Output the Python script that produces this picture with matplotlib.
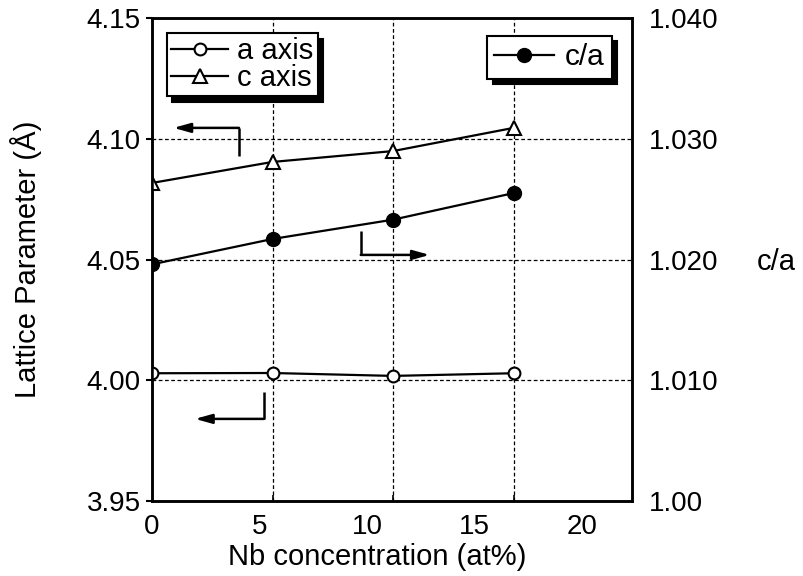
import matplotlib
matplotlib.use("Agg")
import matplotlib.pyplot as plt

plt.rcParams['font.family'] = ['Liberation Sans', 'DejaVu Sans']

# ---- data ----
nb_conc = [0.0, 5.6, 11.2, 16.8]
a_axis = [4.0029, 4.0030, 4.0018, 4.0029]
c_axis = [4.0817, 4.0904, 4.0949, 4.1045]
c_over_a = [1.0196, 1.0217, 1.0233, 1.0255]

x_tick_vals = [0, 5, 10, 15, 20]
x_tick_labels = ['0', '5', '10', '15', '20']
y_left_ticks = [3.95, 4.00, 4.05, 4.10, 4.15]
y_left_labels = ['3.95', '4.00', '4.05', '4.10', '4.15']
y_right_ticks = [1.00, 1.01, 1.02, 1.03, 1.04]
y_right_labels = ['1.00', '1.010', '1.020', '1.030', '1.040']

fig = plt.figure(figsize=(8.04, 5.76), dpi=100)
ax = fig.add_axes([152/804, 75/576, 480/804, 483/576])

TICK_FS = 20
LABEL_FS = 21

ax.set_xlim(0, 22.3)
ax.set_ylim(3.95, 4.15)

ax.set_xticks(x_tick_vals)
ax.set_xticklabels(x_tick_labels, fontsize=TICK_FS)
ax.set_xticks(nb_conc[1:], minor=True)
ax.tick_params(axis='x', which='major', length=0, pad=9)
ax.tick_params(axis='x', which='minor', length=4, direction='in', width=1.2)
ax.grid(True, axis='x', which='minor', color='k', linestyle=(0, (3, 2)), linewidth=0.9)

ax.set_yticks(y_left_ticks)
ax.set_yticklabels(y_left_labels, fontsize=TICK_FS)
ax.tick_params(axis='y', which='major', length=4, direction='out', width=1.5, pad=4)
ax.grid(True, axis='y', which='major', color='k', linestyle=(0, (3, 2)), linewidth=0.9)

for s in ax.spines.values():
    s.set_linewidth(1.8)

l1, = ax.plot(nb_conc, a_axis, color='k', lw=1.6, marker='o', ms=8.5,
              mfc='white', mec='k', mew=1.5, label='a axis', zorder=5)
l2, = ax.plot(nb_conc, c_axis, color='k', lw=1.6, marker='^', ms=9.5,
              mfc='white', mec='k', mew=1.5, label='c axis', zorder=5)

ax2 = ax.twinx()
ax2.set_ylim(1.000, 1.040)
ax2.set_yticks(y_right_ticks)
ax2.set_yticklabels(y_right_labels, fontsize=TICK_FS)
ax2.tick_params(axis='y', length=0, pad=12)
for s in ax2.spines.values():
    s.set_linewidth(1.8)
l3, = ax2.plot(nb_conc, c_over_a, color='k', lw=1.6, marker='o', ms=10,
               mfc='k', mec='k', label='c/a', zorder=5)

ax.set_xlabel('Nb concentration (at%)', fontsize=LABEL_FS)
ax.xaxis.set_label_coords(0.47, -0.087)
ax.set_ylabel('Lattice Parameter (Å)', fontsize=LABEL_FS)
ax.yaxis.set_label_coords(-0.229, 0.5)
ax2.set_ylabel('c/a', fontsize=LABEL_FS, rotation=0, ha='center', va='center')
ax2.yaxis.set_label_coords(1.30, 0.495)

# direction arrows
def corner_arrow(axis, x0, y0, xc, yc, xt, yt):
    axis.plot([x0, xc], [y0, yc], color='k', lw=1.8, solid_capstyle='butt', zorder=4)
    axis.annotate('', xy=(xt, yt), xytext=(xc, yc),
                  arrowprops=dict(arrowstyle='-|>,head_length=1.0,head_width=0.28',
                                  color='k', lw=1.8, shrinkA=0, shrinkB=0), zorder=4)

corner_arrow(ax, 4.04, 4.0929, 4.04, 4.1045, 1.0, 4.1045)
corner_arrow(ax, 9.70, 4.0618, 9.70, 4.0519, 12.9, 4.0519)
corner_arrow(ax, 5.2, 3.9951, 5.2, 3.9840, 2.0, 3.9840)

leg1 = ax.legend(handles=[l1, l2], loc='upper left', bbox_to_anchor=(0.031, 0.969),
                 fontsize=21, frameon=True, fancybox=False, edgecolor='k',
                 framealpha=1, handlelength=1.95, handletextpad=0.3,
                 labelspacing=-0.05, borderpad=0.15, borderaxespad=0,
                 shadow={'ox': 4, 'oy': -4, 'color': 'k', 'alpha': 1})
leg1.get_frame().set_linewidth(1.5)
leg1.set_zorder(10)

leg2 = ax2.legend(handles=[l3], loc='upper right', bbox_to_anchor=(0.958, 0.963),
                  fontsize=21.5, frameon=True, fancybox=False, edgecolor='k',
                  framealpha=1, handlelength=2.0, handletextpad=0.35,
                  borderpad=0.25, borderaxespad=0,
                  shadow={'ox': 4, 'oy': -4, 'color': 'k', 'alpha': 1})
leg2.get_frame().set_linewidth(1.5)

fig.savefig('out.png', dpi=100)
